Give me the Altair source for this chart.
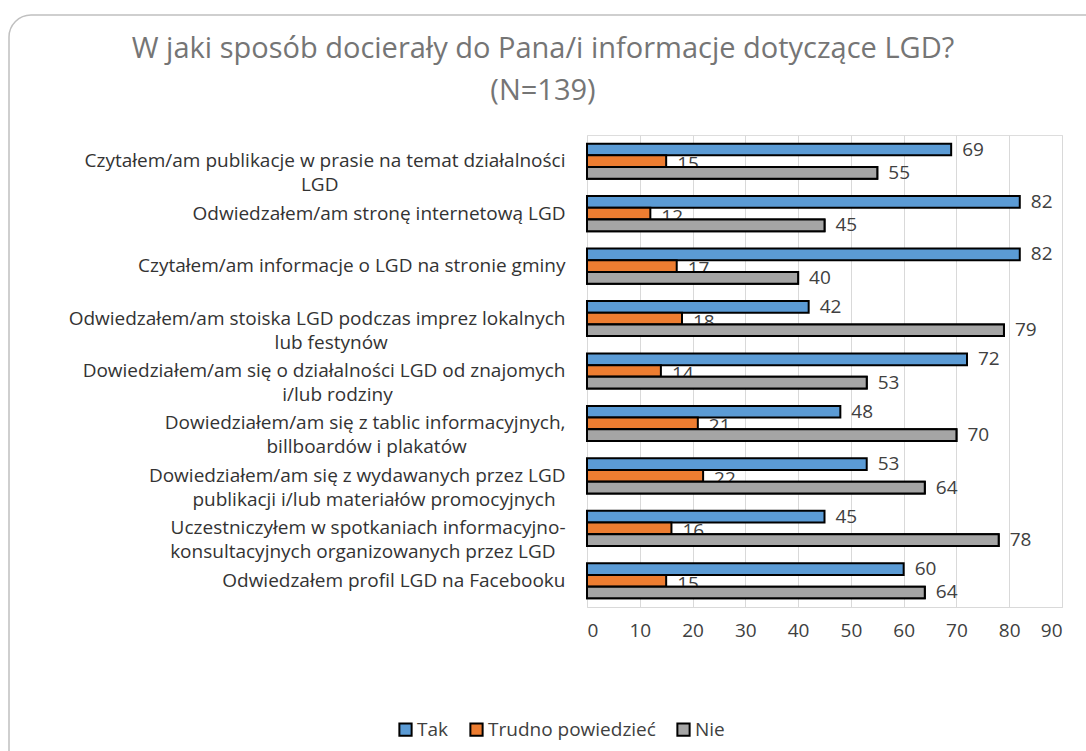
import altair as alt
import pandas as pd

categories = [
    "Czytałem/am publikacje w prasie na temat działalności|LGD",
    "Odwiedzałem/am stronę internetową LGD",
    "Czytałem/am informacje o LGD na stronie gminy",
    "Odwiedzałem/am stoiska LGD podczas imprez lokalnych|lub festynów",
    "Dowiedziałem/am się o działalności LGD od znajomych|i/lub rodziny",
    "Dowiedziałem/am się z tablic informacyjnych,|billboardów i plakatów",
    "Dowiedziałem/am się z wydawanych przez LGD|publikacji i/lub materiałów promocyjnych",
    "Uczestniczyłem w spotkaniach informacyjno-|konsultacyjnych organizowanych przez LGD",
    "Odwiedzałem profil LGD na Facebooku",
]
tak = [69, 82, 82, 42, 72, 48, 53, 45, 60]
trudno = [15, 12, 17, 18, 14, 21, 22, 16, 15]
nie = [55, 45, 40, 79, 53, 70, 64, 78, 64]
series = ["Tak", "Trudno powiedzieć", "Nie"]
colors = ["#5B9BD5", "#ED7D31", "#A5A5A5"]
title_lines = ["W jaki sposób docierały do Pana/i informacje dotyczące LGD?", "(N=139)"]

FONT = "Open Sans"
NBSP = "\u00a0"
ZWSP = "\u200b"


def center_lines(label):
    # pad the shorter line with no-break spaces so the lines look centred in a right-aligned block
    lines = label.split("|")
    if len(lines) < 2:
        return label
    longest = max(len(l) for l in lines)
    out = []
    for l in lines:
        n = int(round((longest - len(l)) / 2 * 0.48 / 0.26))
        out.append(l + NBSP * n + (ZWSP if n else ""))
    return "|".join(out)


cat_disp = [center_lines(c) for c in categories]

rows = []
for c, a, b, d in zip(cat_disp, tak, trudno, nie):
    rows.append({"cat": c, "series": series[0], "value": a})
    rows.append({"cat": c, "series": series[1], "value": b})
    rows.append({"cat": c, "series": series[2], "value": d})
df = pd.DataFrame(rows)

y_enc = alt.Y(
    "cat:N",
    sort=cat_disp,
    scale=alt.Scale(paddingInner=0.33, paddingOuter=0.165),
    axis=alt.Axis(
        title=None,
        labelExpr="split(datum.label, '|')",
        labelFont=FONT,
        labelFontSize=19,
        labelColor="#333333",
        labelLimit=1000,
        labelPadding=22,
        labelLineHeight=24,
        ticks=False,
        domain=False,
        grid=False,
    ),
)
yoff_enc = alt.YOffset("series:N", sort=series, scale=alt.Scale(domain=series, paddingInner=0, paddingOuter=0))
x_enc = alt.X(
    "value:Q",
    scale=alt.Scale(domain=[0, 90], nice=False),
    axis=alt.Axis(
        title=None,
        values=list(range(0, 91, 10)),
        grid=True,
        gridColor="#d9d9d9",
        gridWidth=1,
        domainColor="#d9d9d9",
        ticks=False,
        labelFont=FONT,
        labelFontSize=19,
        labelColor="#404040",
        labelPadding=14,
    ),
)

base = alt.Chart(df)
one = pd.DataFrame({"a": [0]})

border = alt.Chart(one).mark_rect(
    cornerRadius=22, fillOpacity=0, stroke="#c0c0c0", strokeWidth=1.5
).encode(
    x=alt.value(-578), x2=alt.value(530), y=alt.value(-120), y2=alt.value(650)
)

title = alt.Chart(one).mark_text(
    align="center", baseline="alphabetic", font=FONT, fontSize=29, color="#757575",
    lineBreak="\n", lineHeight=42,
).encode(
    x=alt.value(-44), y=alt.value(-77), text=alt.value("\n".join(title_lines))
)

white_box = base.transform_filter(alt.datum.series == series[1]).transform_calculate(
    v2="datum.value + 8"
).mark_bar(color="white").encode(
    x=x_enc, x2="v2:Q", y=y_enc, yOffset=yoff_enc
)

bars = base.mark_bar(stroke="black", strokeWidth=2).encode(
    x=x_enc,
    y=y_enc,
    yOffset=yoff_enc,
    color=alt.Color(
        "series:N",
        sort=series,
        scale=alt.Scale(domain=series, range=colors),
        legend=alt.Legend(
            title=None,
            orient="none",
            legendX=-191,
            legendY=585,
            direction="horizontal",
            symbolType="square",
            symbolSize=150,
            symbolStrokeColor="black",
            symbolStrokeWidth=2,
            labelFont=FONT,
            labelFontSize=19,
            labelColor="#404040",
            labelLimit=1000,
            labelOffset=2,
            columnPadding=17,
        ),
    ),
)

orange_text = base.transform_filter(alt.datum.series == series[1]).mark_text(
    align="left", baseline="middle", dx=11, dy=3, font=FONT, fontSize=19, color="#404040"
).encode(x=x_enc, y=y_enc, yOffset=yoff_enc, text="value:Q")

gray_bars = base.transform_filter(alt.datum.series == series[2]).mark_bar(
    stroke="black", strokeWidth=2, color=colors[2]
).encode(x=x_enc, y=y_enc, yOffset=yoff_enc)

other_text = base.transform_filter(alt.datum.series != series[1]).mark_text(
    align="left", baseline="middle", dx=11, font=FONT, fontSize=19, color="#404040"
).encode(x=x_enc, y=y_enc, yOffset=yoff_enc, text="value:Q")

chart = alt.layer(border, title, white_box, bars, orange_text, gray_bars, other_text).properties(
    width=475,
    height=472,
    autosize=alt.AutoSizeParams(type="none"),
    padding={"left": 587, "top": 135, "right": 24, "bottom": 144},
).configure_view(stroke=None).configure(background="white")

chart.save("out.html", embed_options={"renderer": "svg", "actions": False})
